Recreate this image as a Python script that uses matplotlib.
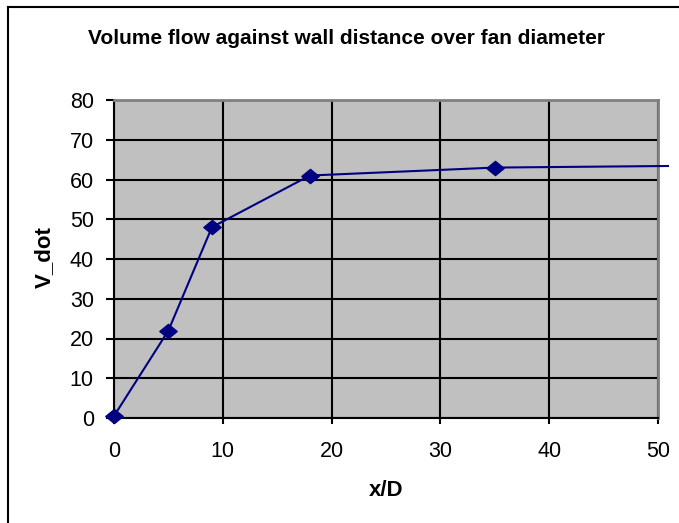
import matplotlib
matplotlib.use("Agg")
import matplotlib.pyplot as plt
from matplotlib.transforms import Bbox, TransformedBbox
from matplotlib.lines import Line2D
from matplotlib.path import Path

x_over_d = [0, 5, 9, 18, 35, 51]
v_dot = [0.5, 22, 48, 61, 63, 63.4]
x_ticks = [0, 10, 20, 30, 40, 50]
y_ticks = [0, 10, 20, 30, 40, 50, 60, 70, 80]

plt.rcParams['font.family'] = ['Liberation Sans', 'DejaVu Sans']

fig = plt.figure(figsize=(6.79, 5.23), dpi=100)
fig.patch.set_facecolor('white')

# figure border (left and top visible)
fig.add_artist(Line2D([8/679, 8/679], [0, 1 - 7/523], transform=fig.transFigure, color='black', lw=1.5))
fig.add_artist(Line2D([8/679, 1], [1 - 7/523, 1 - 7/523], transform=fig.transFigure, color='black', lw=1.5))

ax = fig.add_axes([114/679, 1 - 418/523, (658 - 114)/679, (418 - 100)/523])
ax.set_facecolor('#c0c0c0')
ax.set_xlim(0, 50)
ax.set_ylim(0, 80)
ax.set_xticks(x_ticks)
ax.set_yticks(y_ticks)
ax.grid(True, color='black', lw=1.5)
ax.set_axisbelow(True)
for s in ['top', 'right']:
    ax.spines[s].set_color('#808080')
    ax.spines[s].set_linewidth(2)
for s in ['left', 'bottom']:
    ax.spines[s].set_color('black')
    ax.spines[s].set_linewidth(1.5)
ax.tick_params(axis='x', direction='out', length=4.5, width=1.5, labelsize=15.5, pad=12)
ax.tick_params(axis='y', direction='out', length=6, width=1.5, labelsize=15.5, pad=8.5)

diamond = Path([(-1, 0), (0, 0.82), (1, 0), (0, -0.82), (-1, 0)],
               [Path.MOVETO, Path.LINETO, Path.LINETO, Path.LINETO, Path.CLOSEPOLY])
ax.plot(x_over_d[:5], v_dot[:5], color='#000080', lw=1.5, marker=diamond, ms=12.5,
        zorder=5, clip_on=False)
ext, = ax.plot(x_over_d[4:], v_dot[4:], color='#000080', lw=1.5, zorder=5)
ext.set_clip_box(TransformedBbox(Bbox([[0, 0], [1.02, 1]]), ax.transAxes))

fig.text(347/679, 1 - 38/523, 'Volume flow against wall distance over fan diameter',
         ha='center', va='center', fontsize=15, fontweight='bold')
fig.text(386/679, 1 - 490/523, 'x/D', ha='center', va='center', fontsize=16, fontweight='bold')
fig.text(44/679, 1 - 257/523, 'V_dot', ha='center', va='center', fontsize=16, fontweight='bold', rotation=90)

fig.savefig('out.png', dpi=100)
